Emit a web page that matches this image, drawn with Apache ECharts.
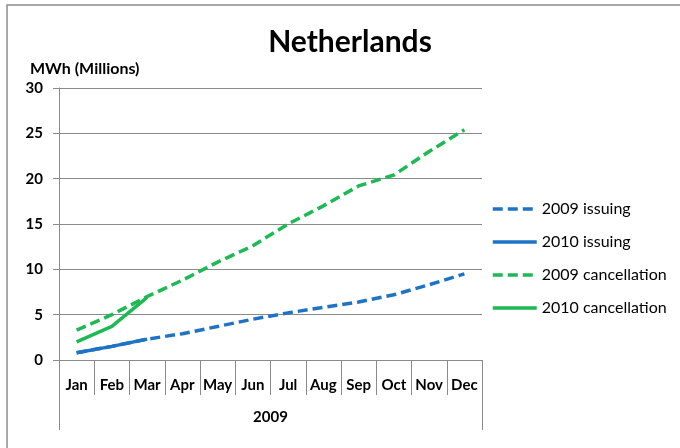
<!DOCTYPE html>
<html>
<head>
<meta charset="utf-8">
<script src="https://cdn.jsdelivr.net/npm/echarts@6/dist/echarts.min.js"></script>
<style>
  html, body { margin: 0; padding: 0; background: #fff; }
  #chart { width: 680px; height: 448px; }
</style>
</head>
<body>
<div id="chart"></div>
<script>
// data
const months = ["Jan", "Feb", "Mar", "Apr", "May", "Jun", "Jul", "Aug", "Sep", "Oct", "Nov", "Dec"];
const yearLabel = ["2009"];
const issuing2009 = [0.8, 1.5, 2.3, 2.9, 3.7, 4.5, 5.2, 5.8, 6.4, 7.2, 8.3, 9.5];
const issuing2010 = [0.8, 1.5, 2.3];
const cancel2009 = [3.3, 5.0, 7.0, 8.8, 10.8, 12.6, 15.0, 17.0, 19.2, 20.4, 23.0, 25.4];
const cancel2010 = [2.0, 3.7, 6.9];

const FONT = "Lato";
const BLUE = "#1f73c6";
const GREEN = "#1db954";
const GREY = "#8a8a8a";

const myChart = echarts.init(document.getElementById("chart"));

function line(name, data, color, dashed) {
  return {
    name: name,
    type: "line",
    data: data,
    symbol: "none",
    xAxisIndex: 0,
    lineStyle: { color: color, width: 3.5, type: dashed ? [10, 5] : "solid", cap: "butt" },
    itemStyle: { color: color },
    animation: false
  };
}

const option = {
  backgroundColor: "#fff",
  textStyle: { fontFamily: FONT },
  title: [
    {
      text: "Netherlands",
      left: 345,
      top: 22,
      textAlign: "center",
      textStyle: { fontFamily: FONT, fontSize: 30, fontWeight: "bold", color: "#000" }
    },
    {
      text: "MWh (Millions)",
      left: 25,
      top: 56,
      textStyle: { fontFamily: FONT, fontSize: 16, fontWeight: "bold", color: "#000" }
    }
  ],
  graphic: [
    {
      type: "rect",
      shape: { x: 7, y: 5, width: 720, height: 500 },
      style: { fill: "none", stroke: "#8c8c8c", lineWidth: 1.5 },
      silent: true
    }
  ],
  legend: {
    orient: "vertical",
    left: 491,
    top: 201,
    padding: 0,
    itemWidth: 44,
    itemHeight: 16,
    itemGap: 17,
    itemStyle: { opacity: 0 },
    lineStyle: { width: 3.5 },
    textStyle: { fontFamily: FONT, fontSize: 16, color: "#000" },
    data: ["2009 issuing", "2010 issuing", "2009 cancellation", "2010 cancellation"]
  },
  grid: { left: 59, right: 198, top: 88, bottom: 88 },
  xAxis: [
    {
      type: "category",
      data: months,
      boundaryGap: true,
      axisLine: { show: true, lineStyle: { color: GREY, width: 1 } },
      axisTick: { show: true, interval: 0, length: 35, lineStyle: { color: GREY } },
      axisLabel: { interval: 0, margin: 18, color: "#000", fontWeight: "bold", fontSize: 15, fontFamily: FONT },
      splitLine: { show: false }
    },
    {
      type: "category",
      data: yearLabel,
      position: "bottom",
      boundaryGap: true,
      axisLine: { show: false },
      axisTick: { show: true, length: 70, lineStyle: { color: GREY } },
      axisLabel: { margin: 50, color: "#000", fontWeight: "bold", fontSize: 15, fontFamily: FONT },
      splitLine: { show: false }
    }
  ],
  yAxis: {
    type: "value",
    min: 0,
    max: 30,
    interval: 5,
    axisLine: { show: true, lineStyle: { color: GREY } },
    axisTick: { show: true, length: 6, lineStyle: { color: GREY } },
    axisLabel: { margin: 16, color: "#000", fontWeight: "bold", fontSize: 15, fontFamily: FONT },
    splitLine: { show: true, lineStyle: { color: GREY, width: 1 } }
  },
  series: [
    line("2009 issuing", issuing2009, BLUE, true),
    line("2010 issuing", issuing2010, BLUE, false),
    line("2009 cancellation", cancel2009, GREEN, true),
    line("2010 cancellation", cancel2010, GREEN, false)
  ]
};

myChart.setOption(option);
</script>
</body>
</html>
